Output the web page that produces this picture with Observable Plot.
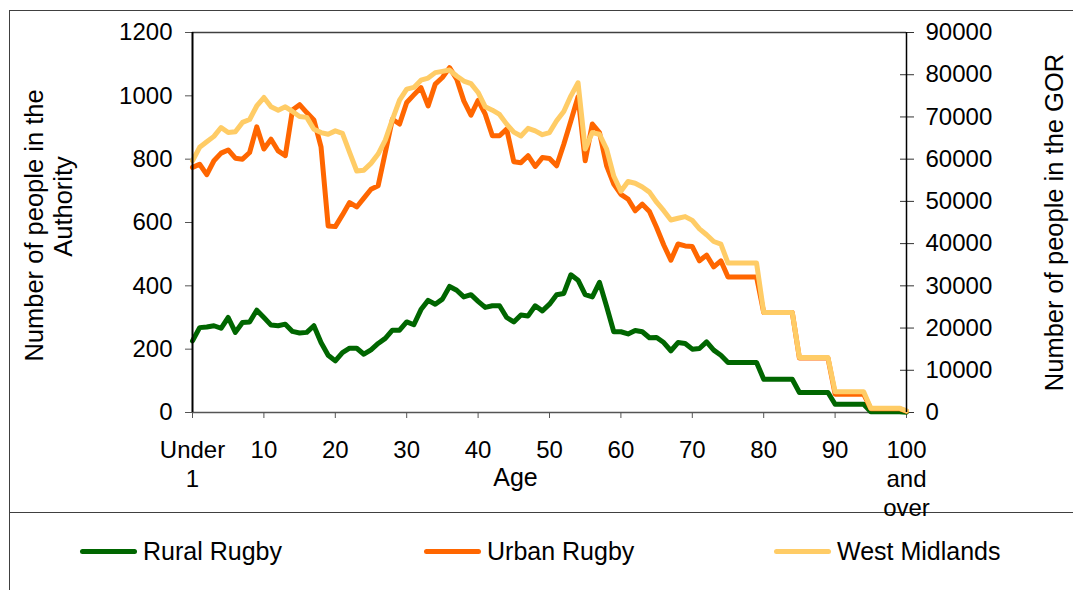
<!DOCTYPE html>
<html><head><meta charset="utf-8">
<script src="https://cdn.jsdelivr.net/npm/d3@7"></script>
<script src="https://cdn.jsdelivr.net/npm/@observablehq/plot@0.6"></script>
<style>
body{margin:0;background:#fff;}
#wrap{position:relative;width:1073px;height:590px;overflow:hidden;font-family:"Liberation Sans",Arial,sans-serif;background:#fff;}
#frame{position:absolute;left:9px;top:10px;width:1200px;height:700px;border-left:1.5px solid #404040;border-top:1.5px solid #404040;}
#sep{position:absolute;left:9px;top:512px;width:1100px;height:0;border-top:1.5px solid #404040;}
#chart{position:absolute;left:0;top:0;}
.leg{position:absolute;top:536px;height:30px;display:flex;align-items:center;font-size:25px;color:#000;white-space:nowrap;}
.leg .sw{display:inline-block;width:57px;height:5px;border-radius:3px;margin-right:6px;}
</style></head>
<body>
<div id="wrap">
  <div id="frame"></div>
  <div id="sep"></div>
  <div id="chart"></div>
  <div id="legend"></div>
</div>
<script>
const seriesNames = ["Rural Rugby", "Urban Rugby", "West Midlands"];
const seriesColors = ["#006600", "#ff6600", "#ffcc66"];

const ages = [
  0,1,2,3,4,5,6,7,8,9,10,11,12,13,14,15,16,17,18,19,20,
  21,22,23,24,25,26,27,28,29,30,31,32,33,34,35,36,37,38,39,40,
  41,42,43,44,45,46,47,48,49,50,51,52,53,54,55,56,57,58,59,60,
  61,62,63,64,65,66,67,68,69,70,71,72,73,74,75,76,77,78,79,80,
  81,82,83,84,85,86,87,88,89,90,91,92,93,94,95,96,97,98,99,100
];

// Number of people in the Authority (left axis)
const rural = [
  226,268,270,274,266,300,253,284,286,323,300,276,274,279,256,251,253,274,221,181,163,
  189,203,203,184,198,218,234,260,260,286,277,325,354,342,358,398,386,365,372,351,
  332,337,337,300,286,308,305,337,321,342,372,376,435,418,372,365,411,335,255,255,
  248,259,255,236,237,221,195,221,218,200,202,223,197,181,158,158,158,158,158,105,
  105,105,105,105,63,63,63,63,63,26,26,26,26,26,2,2,2,2,2,1
];
const urban = [
  774,784,751,795,819,829,803,800,821,902,832,863,826,811,955,972,947,924,839,589,587,
  624,663,649,677,705,716,821,926,911,979,1003,1026,968,1037,1058,1089,1053,984,939,986,
  942,874,874,895,792,789,811,777,805,802,779,847,921,997,795,911,884,779,721,689,
  674,637,658,635,584,529,481,532,526,524,479,497,460,479,428,428,428,428,428,316,
  316,316,316,316,172,172,172,172,172,58,58,58,58,58,12,12,12,12,12,4
];
// Number of people in the GOR (right axis)
const westMidlands = [
  59600,62800,64100,65400,67500,66300,66500,68700,69400,72600,74600,72400,71600,72400,71300,70100,69900,67100,66300,65900,66700,
  66100,61600,57200,57400,59000,61200,64500,69400,74000,76600,77000,78700,79200,80500,80800,81100,79700,78500,77900,75800,
  72400,71600,70600,68300,66400,65500,67300,66700,65800,66300,69100,71300,75000,78100,62400,66300,65900,62400,56000,52400,
  54700,54300,53400,52200,49800,47800,45600,46000,46400,45500,43500,42100,40500,39900,35400,35400,35400,35400,35400,23700,
  23700,23700,23700,23700,13000,13000,13000,13000,13000,4900,4900,4900,4900,4900,1030,1030,1030,1030,1030,400
];

const leftTicks = [0,200,400,600,800,1000,1200];
const rightTicks = [0,10000,20000,30000,40000,50000,60000,70000,80000,90000];
const xTicks = [0,10,20,30,40,50,60,70,80,90,100];
const xTickLabels = ["Under\n1","10","20","30","40","50","60","70","80","90","100\nand\nover"];

const ratio = 90000 / 1200;
const data = ages.map((a, i) => ({age: a, rural: rural[i], urban: urban[i], wm: westMidlands[i]}));
const font = "'Liberation Sans', Arial, sans-serif";
const rightScaled = rightTicks.map(v => v / ratio);

const chart = Plot.plot({
  width: 1073, height: 513,
  marginLeft: 192, marginRight: 167, marginTop: 32, marginBottom: 101,
  style: {fontFamily: font, fontSize: "24px", color: "#000", background: "transparent", overflow: "visible"},
  x: {domain: [0, 100]},
  y: {domain: [0, 1200]},
  marks: [
    Plot.ruleY([1200], {stroke: "#404040", strokeWidth: 1.5}),
    Plot.ruleY([0], {stroke: "#555", strokeWidth: 1.5}),
    Plot.axisY(leftTicks, {anchor: "left", tickSize: 7, tickPadding: 13, stroke: "#555", label: null,
      tickFormat: d => String(d)}),
    Plot.axisY(rightScaled, {anchor: "right", tickSize: 7, tickPadding: 12, stroke: "#333", label: null,
      tickFormat: d => String(Math.round(d * ratio))}),
    Plot.axisY(rightScaled, {anchor: "right", tickSize: 7, dx: -7, stroke: "#333", label: null, tickFormat: () => ""}),
    Plot.axisX(xTicks, {anchor: "bottom", tickSize: 6, tickPadding: 19, lineHeight: 1.2, stroke: "#555", label: null,
      tickFormat: d => xTickLabels[xTicks.indexOf(d)]}),
    Plot.line(data, {x: "age", y: "rural", stroke: seriesColors[0], strokeWidth: 5, strokeLinejoin: "round"}),
    Plot.line(data, {x: "age", y: "urban", stroke: seriesColors[1], strokeWidth: 5, strokeLinejoin: "round"}),
    Plot.line(data, {x: "age", y: d => d.wm / ratio, stroke: seriesColors[2], strokeWidth: 5, strokeLinejoin: "round"}),
    Plot.ruleX([0], {stroke: "#000", strokeWidth: 2}),
    Plot.ruleX([100], {stroke: "#000", strokeWidth: 1.5}),
    Plot.text(["Number of people in the"], {frameAnchor: "left", textAnchor: "middle", rotate: -90, dx: -158, dy: 3, fontSize: 25.5, fill: "#000", lineAnchor: "middle"}),
    Plot.text(["Authority"], {frameAnchor: "left", textAnchor: "middle", rotate: -90, dx: -129, dy: -16, fontSize: 25.5, fill: "#000", lineAnchor: "middle"}),
    Plot.text(["Number of people in the GOR"], {frameAnchor: "right", textAnchor: "middle", rotate: -90, dx: 148, fontSize: 25.5, fill: "#000", lineAnchor: "middle"}),
    Plot.text(["Age"], {frameAnchor: "bottom", textAnchor: "middle", dx: -34, dy: 65, fontSize: 25, fill: "#000", lineAnchor: "middle"})
  ]
});
document.getElementById("chart").appendChild(chart);

const legendX = [80, 424, 774];
const legend = document.getElementById("legend");
seriesNames.forEach((name, i) => {
  const item = document.createElement("div");
  item.className = "leg";
  item.style.left = legendX[i] + "px";
  const sw = document.createElement("span");
  sw.className = "sw";
  sw.style.background = seriesColors[i];
  const t = document.createElement("span");
  t.textContent = name;
  item.appendChild(sw);
  item.appendChild(t);
  legend.appendChild(item);
});
</script>
</body></html>
